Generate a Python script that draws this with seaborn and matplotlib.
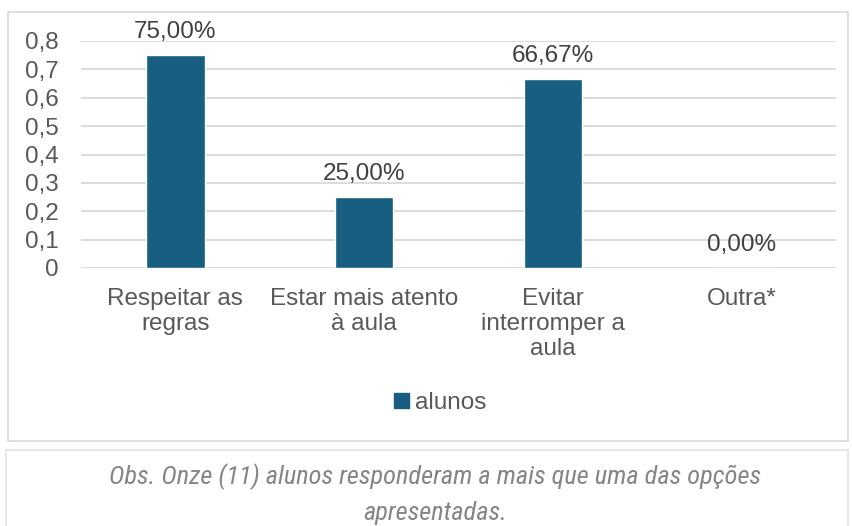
import matplotlib
matplotlib.use("Agg")
import matplotlib.pyplot as plt
import seaborn as sns
import pandas as pd
from matplotlib.patches import Rectangle
from matplotlib.lines import Line2D

categories = ["Respeitar as\nregras", "Estar mais atento\nà aula", "Evitar\ninterromper a\naula", "Outra*"]
values = [0.75, 0.25, 0.6667, 0.0]
value_labels = ["75,00%", "25,00%", "66,67%", "0,00%"]
y_ticks = [0, 0.1, 0.2, 0.3, 0.4, 0.5, 0.6, 0.7, 0.8]
y_tick_labels = ["0", "0,1", "0,2", "0,3", "0,4", "0,5", "0,6", "0,7", "0,8"]
series_name = "alunos"
note_lines = ["Obs. Onze (11) alunos responderam a mais que uma das opções", "apresentadas."]

sns.set_style("white")
plt.rcParams['font.family'] = ['Liberation Sans', 'DejaVu Sans']

W, H = 852, 526
fig = plt.figure(figsize=(W / 100, H / 100), dpi=100)
bar_color = "#175e80"
text_color = "#595959"
FS = 17.5

ax = fig.add_axes([81 / W, (H - 268) / H, (836 - 81) / W, (268 - 41) / H])
df = pd.DataFrame({"cat": categories, "val": values})
sns.barplot(data=df, x="cat", y="val", color=bar_color, width=0.31, ax=ax,
            saturation=1, label=series_name, legend=False)
ax.set_ylim(0, 0.8)
ax.set_xlim(-0.5, 3.5)
ax.set_yticks(y_ticks)
ax.set_yticklabels(y_tick_labels, fontsize=FS, color=text_color)
ax.tick_params(axis="y", length=0, pad=16)
ax.tick_params(axis="x", length=0, pad=14.5, labelsize=FS, labelcolor=text_color)
for lbl in ax.get_xticklabels():
    lbl.set_linespacing(1.18)
ax.set_xlabel("")
ax.set_ylabel("")
ax.yaxis.grid(True, color="#d9d9d9", linewidth=1.3)
ax.set_axisbelow(True)
for s in ax.spines.values():
    s.set_visible(False)

for i, (v, t) in enumerate(zip(values, value_labels)):
    ax.annotate(t, (i, v), xytext=(0, 8.5), textcoords="offset points",
                ha="center", va="bottom", fontsize=FS, color="#404040")

# legend
handle = Rectangle((0, 0), 1, 1, color=bar_color)
fig.legend([handle], [series_name], loc="center", bbox_to_anchor=(440 / W, 1 - 403 / H),
           frameon=False, fontsize=FS, handlelength=0.6, handleheight=0.6,
           handletextpad=0.25, labelcolor=text_color)

# chart border
fig.patches.append(Rectangle((8 / W, 1 - 441 / H), (848 - 8) / W, (441 - 12) / H,
                             transform=fig.transFigure, fill=False,
                             edgecolor="#d9d9d9", linewidth=1.2))
# note box (top, left, right edges)
y_top = 1 - 450 / H
fig.lines.append(Line2D([6 / W, 848 / W], [y_top, y_top], transform=fig.transFigure,
                        color="#e3e3e3", linewidth=1.2))
fig.lines.append(Line2D([6 / W, 6 / W], [0, y_top], transform=fig.transFigure,
                        color="#e3e3e3", linewidth=1.2))
fig.lines.append(Line2D([848 / W, 848 / W], [0, y_top], transform=fig.transFigure,
                        color="#e3e3e3", linewidth=1.2))

note_font = ['Roboto Condensed', 'Liberation Sans Narrow', 'Roboto', 'DejaVu Sans']
fig.text(435 / W, 1 - 477 / H, note_lines[0], ha="center", va="center",
         fontsize=19, style="italic", color="#858585", family=note_font)
fig.text(435 / W, 1 - 513 / H, note_lines[1], ha="center", va="center",
         fontsize=19, style="italic", color="#858585", family=note_font)

fig.savefig("out.png", dpi=100)
